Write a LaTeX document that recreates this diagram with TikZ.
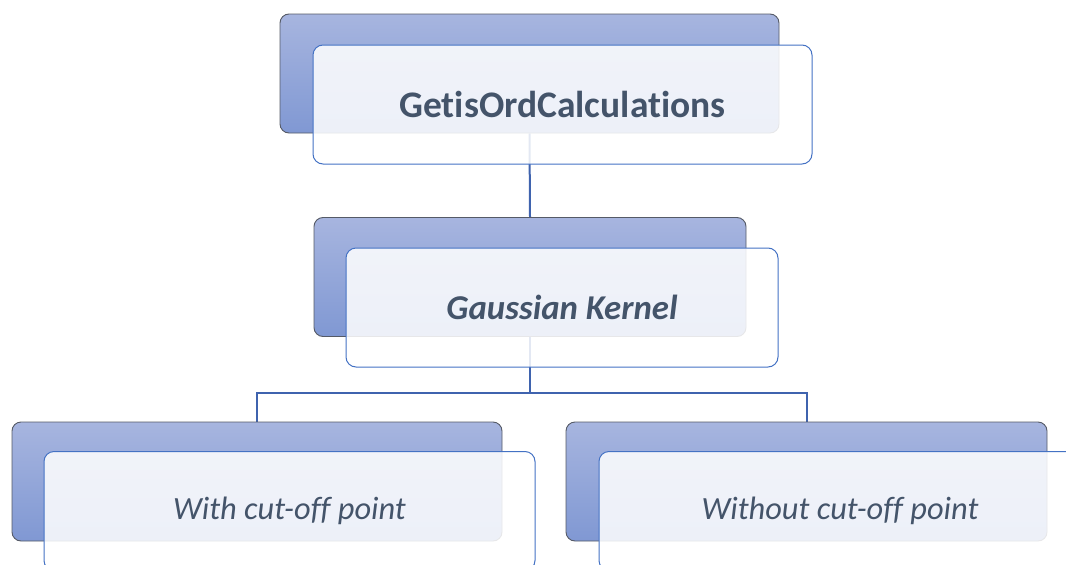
\documentclass[tikz,border=0pt]{standalone}
\usepackage{fontspec}
\setmainfont[Ligatures={NoCommon}]{Carlito}
\pgfdeclarelayer{bg}
\pgfdeclarelayer{fg}
\pgfsetlayers{bg,main,fg}
\begin{document}
\begin{tikzpicture}[x=1pt,y=-1pt,
  backbox/.style={rectangle, rounded corners=9pt, draw=backedge, line width=0.9pt,
    top color=backtop, bottom color=backbot, minimum width=#1, minimum height=119pt, inner sep=0pt},
  frontbox/.style={rectangle, rounded corners=10pt, draw=frontedge, line width=1pt,
    fill=white, fill opacity=0.86, text opacity=1, minimum width=#1, minimum height=119pt,
    inner sep=0pt, text=textcol},
  conn/.style={draw=connc, line width=2pt}]
\definecolor{backedge}{HTML}{555A66}
\definecolor{backtop}{HTML}{A7B5DF}
\definecolor{backbot}{HTML}{8098D3}
\definecolor{frontedge}{HTML}{4472C4}
\definecolor{textcol}{HTML}{44546A}
\definecolor{connc}{HTML}{3F63AE}
\useasboundingbox (0,0) rectangle (1066,565);
% back boxes
\node[backbox=499pt] (b1) at (529.5,73.5) {};
\node[backbox=432pt] (b2) at (530,277) {};
\node[backbox=490pt] (b3) at (257,481.5) {};
\node[backbox=481pt] (b4) at (806.5,481.5) {};
\coordinate (j) at (530,393);
% connectors behind
\begin{pgfonlayer}{bg}
\draw[conn] (b1.south) -- (b2.north);
\draw[conn] (b2.south) -- (j) -| (b3.north);
\draw[conn] (j) -| (b4.north);
\end{pgfonlayer}
% front boxes
\begin{pgfonlayer}{fg}
\node[frontbox=499pt] (f1) at (562.5,104.5) {\fontsize{37.5}{42}\selectfont\bfseries GetisOrdCalculations};
\node[frontbox=432pt] (f2) at (562,307.5) {\fontsize{34.8}{40}\selectfont\bfseries\itshape Gaussian Kernel};
\node[frontbox=491pt] (f3) at (289.5,511) {\fontsize{32.4}{38}\selectfont\itshape With cut-off point};
\node[frontbox=482pt] (f4) at (840,511) {\fontsize{32.4}{38}\selectfont\itshape Without cut-off point};
\end{pgfonlayer}
\end{tikzpicture}
\end{document}
